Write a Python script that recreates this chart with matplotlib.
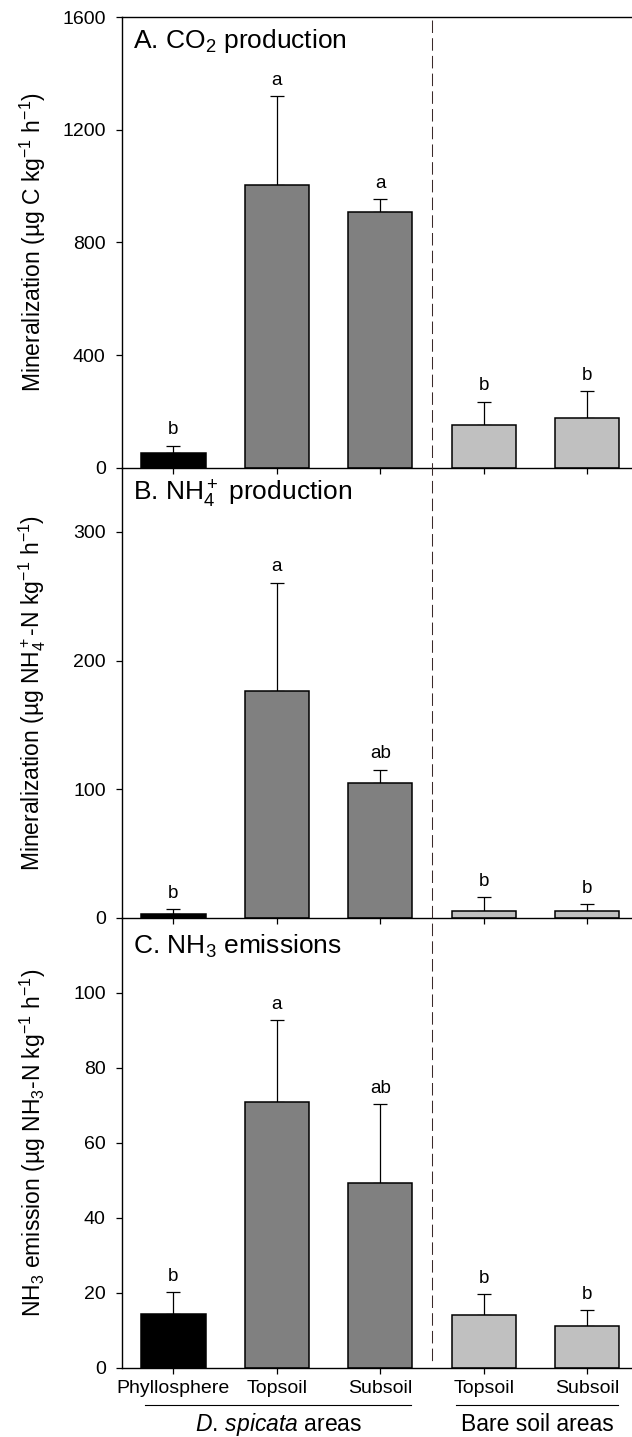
import matplotlib
matplotlib.use("Agg")
import matplotlib.pyplot as plt
from matplotlib.lines import Line2D
from matplotlib.transforms import blended_transform_factory
import numpy as np

plt.rcParams['font.family'] = ['Liberation Sans', 'DejaVu Sans']
plt.rcParams['mathtext.fontset'] = 'custom'
plt.rcParams['mathtext.rm'] = 'Liberation Sans'
plt.rcParams['mathtext.it'] = 'Liberation Sans:italic'
plt.rcParams['mathtext.bf'] = 'Liberation Sans:bold'
plt.rcParams['mathtext.sf'] = 'Liberation Sans'

categories = ["Phyllosphere", "Topsoil", "Subsoil", "Topsoil", "Subsoil"]
groups = ["$\\it{D.}\\,\\it{spicata}$ areas", "Bare soil areas"]
group_members = [[0, 1, 2], [3, 4]]
colors = ["#000000", "#808080", "#808080", "#c0c0c0", "#c0c0c0"]

co2_mean = [53, 1003, 907, 152, 175]
co2_err = [25, 315, 46, 82, 97]
co2_letters = ["b", "a", "a", "b", "b"]

nh4_mean = [2.6, 176.5, 105, 5.4, 5.2]
nh4_err = [4.1, 84, 10, 10.4, 5.2]
nh4_letters = ["b", "a", "ab", "b", "b"]

nh3_mean = [14.4, 70.8, 49.2, 14.0, 11.1]
nh3_err = [5.7, 21.8, 21.1, 5.6, 4.2]
nh3_letters = ["b", "a", "ab", "b", "b"]

panels = [
    dict(mean=co2_mean, err=co2_err, letters=co2_letters, ylim=(0, 1600),
         yticks=[0, 400, 800, 1200, 1600], title="A. CO$_2$ production",
         ylabel="Mineralization (\u00b5g C kg$^{-1}$ h$^{-1}$)", ty=0.9305),
    dict(mean=nh4_mean, err=nh4_err, letters=nh4_letters, ylim=(0, 350),
         yticks=[0, 100, 200, 300], title="B. NH$_4^+$ production",
         ylabel="Mineralization (\u00b5g NH$_4^+$-N kg$^{-1}$ h$^{-1}$)", ty=0.926),
    dict(mean=nh3_mean, err=nh3_err, letters=nh3_letters, ylim=(0, 120),
         yticks=[0, 20, 40, 60, 80, 100], title="C. NH$_3$ emissions",
         ylabel="NH$_3$ emission (\u00b5g NH$_3$-N kg$^{-1}$ h$^{-1}$)", ty=0.919),
]

W, H = 632, 1437
fig = plt.figure(figsize=(W / 100, H / 100), dpi=100)

left_px, right_px = 121.7, 639
tops = [17, 467.7, 917.7]
bottoms = [467.7, 917.7, 1367.7]
x = np.arange(len(categories))
axes = []
for i, p in enumerate(panels):
    ax = fig.add_axes([left_px / W, 1 - bottoms[i] / H, (right_px - left_px) / W,
                       (bottoms[i] - tops[i]) / H])
    ax.patch.set_visible(False)
    axes.append(ax)
    ax.bar(x, p["mean"], width=0.62, color=colors, edgecolor="black",
           linewidth=1.1, zorder=2)
    ax.errorbar(x, p["mean"], yerr=[np.zeros(len(x)), p["err"]], fmt="none",
                ecolor="black", elinewidth=0.9, capsize=4.9, capthick=0.9, zorder=1)
    for xi, m, e, lt in zip(x, p["mean"], p["err"], p["letters"]):
        ax.annotate(lt, (xi, m + e), xytext=(0, 11.5), textcoords="offset points",
                    ha="center", va="center", fontsize=13.5)
    ax.set_xlim(-0.5, 4.5)
    ax.set_ylim(*p["ylim"])
    ax.set_yticks(p["yticks"])
    ax.set_xticks(x)
    ax.tick_params(axis="both", direction="out", length=4.5, width=0.9,
                   labelsize=14)
    ax.tick_params(axis="y", pad=7)
    ax.tick_params(axis="x", pad=4)
    ax.spines["right"].set_visible(False)
    ax.spines["top"].set_visible(i == 0)
    for s in ax.spines.values():
        s.set_linewidth(1.0)
    ax.set_ylabel(p["ylabel"], fontsize=16.5)
    ax.yaxis.set_label_coords(-0.143, 0.5)
    ax.text(0.022, p["ty"], p["title"], transform=ax.transAxes, fontsize=19,
            ha="left", va="baseline")
    if i < 2:
        ax.set_xticklabels([])
    else:
        ax.set_xticklabels(categories)

axC = axes[-1]
# group lines and labels
tr = blended_transform_factory(axC.transData, axC.transAxes)
for g, members in zip(groups, group_members):
    x0, x1 = members[0] - 0.27, members[-1] + 0.30
    axC.add_line(Line2D([x0, x1], [-0.083, -0.083], transform=tr, color="black",
                        linewidth=0.8, clip_on=False))
    axC.text((x0 + x1) / 2, -0.126, g, transform=tr, ha="center", va="center",
             fontsize=16.5)

# dashed separator
trf = blended_transform_factory(axC.transData, fig.transFigure)
fig.add_artist(Line2D([2.5, 2.5], [1 - 20 / H, 1 - 1362 / H], transform=trf,
                      color="#3a2a2a", linewidth=0.75, linestyle=(0, (12, 5))))

fig.savefig("out.png", dpi=100)
